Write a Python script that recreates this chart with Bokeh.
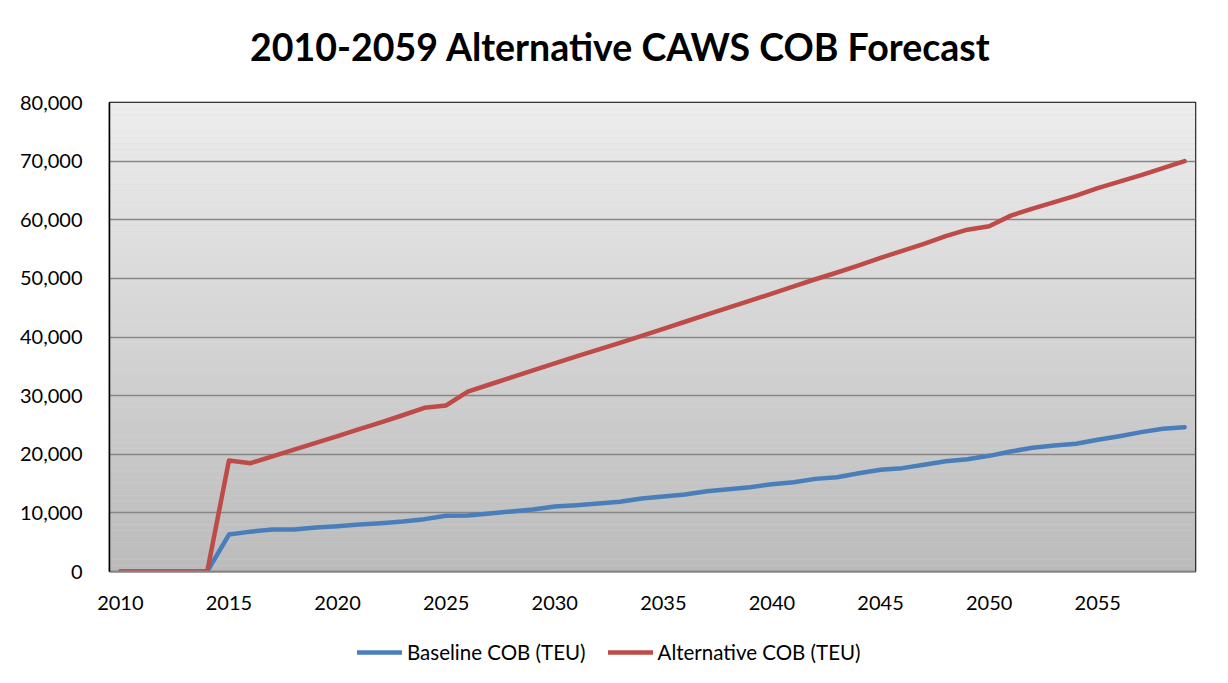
from bokeh.plotting import figure
from bokeh.layouts import column
from bokeh.models import (FixedTicker, NumeralTickFormatter, Range1d, BoxAnnotation,
                          Legend, LegendItem, Label)
from bokeh.embed import file_html
from bokeh.resources import INLINE

# ---------------- data ----------------
years = list(range(2010, 2060))
baseline = [0, 0, 0, 0, 0,
            6300, 6800, 7150, 7150, 7500, 7730, 8020, 8250, 8530, 8930,
            9500, 9550, 9890, 10240, 10580, 11090, 11320, 11600, 11890, 12450,
            12790, 13130, 13700, 14040, 14380, 14900, 15230, 15800, 16090, 16770,
            17350, 17630, 18200, 18820, 19160, 19730, 20470, 21100, 21500, 21780,
            22460, 23080, 23770, 24340, 24620]
alternative = [0, 0, 0, 0, 0,
               18940, 18480, 19650, 20800, 21950, 23100, 24300, 25450, 26650, 27930,
               28320, 30700, 31900, 33100, 34300, 35500, 36700, 37850, 39000, 40200,
               41400, 42600, 43800, 45000, 46200, 47400, 48650, 49850, 51000, 52200,
               53500, 54700, 55900, 57200, 58300, 58900, 60700, 61900, 63000, 64100,
               65400, 66500, 67600, 68800, 70000]
x_ticks = [2010, 2015, 2020, 2025, 2030, 2035, 2040, 2045, 2050, 2055]
y_ticks = [0, 10000, 20000, 30000, 40000, 50000, 60000, 70000, 80000]
series_names = ["Baseline COB (TEU)", "Alternative COB (TEU)"]
series_colors = ["#4A7EBB", "#BE4B48"]
title_text = "2010-2059 Alternative CAWS COB Forecast"

FONT = "Lato"
W = 1220

# ---------------- title strip ----------------
p0 = figure(width=W, height=90, output_backend="svg", toolbar_location=None,
            x_axis_type=None, y_axis_type=None, min_border=0,
            x_range=Range1d(0, 1), y_range=Range1d(0, 1))
p0.outline_line_color = None
p0.background_fill_color = "white"
p0.add_layout(Label(x=511, y=44, x_units="screen", y_units="screen", text=title_text,
                    text_font=FONT, text_font_size="37.5px", text_font_style="bold",
                    text_color="black", text_align="center", text_baseline="middle"))

# ---------------- main chart ----------------
p = figure(width=W, height=535, output_backend="svg", toolbar_location=None,
           x_range=Range1d(2009.5, 2059.5), y_range=Range1d(0, 80000),
           min_border_left=109, min_border_right=25, min_border_top=12,
           min_border_bottom=54)

p.background_fill_color = "#d6d6d6"
p.border_fill_color = "white"
p.outline_line_color = "black"
p.outline_line_width = 1.5

# gradient background bands
nb = 80
top_c, bot_c = 237, 187
for i in range(nb):
    t = (i + 0.5) / nb
    c = int(round(bot_c + (top_c - bot_c) * t))
    p.add_layout(BoxAnnotation(bottom=80000 * i / nb, top=80000 * (i + 1) / nb,
                               fill_color=(c, c, c), fill_alpha=1.0,
                               line_color=None, level="image"))

p.xgrid.grid_line_color = None
p.ygrid.ticker = FixedTicker(ticks=y_ticks)
p.ygrid.grid_line_color = "#868686"
p.ygrid.grid_line_width = 1.5

p.xaxis.ticker = FixedTicker(ticks=x_ticks)
p.yaxis.ticker = FixedTicker(ticks=y_ticks)
p.yaxis.formatter = NumeralTickFormatter(format="0,0")
for ax in (p.xaxis[0], p.yaxis[0]):
    ax.major_tick_line_color = None
    ax.minor_tick_line_color = None
    ax.major_label_text_font = FONT
    ax.major_label_text_font_size = "20px"
    ax.major_label_text_color = "black"
p.yaxis.axis_line_color = "black"
p.yaxis.axis_line_width = 1.5
p.yaxis.major_label_standoff = 21
p.xaxis.axis_line_color = "#868686"
p.xaxis.axis_line_width = 2
p.xaxis.major_label_standoff = 18

for vals, col in zip([baseline, alternative], series_colors):
    p.line(years, vals, line_color=col, line_width=4.5,
           line_join="round", line_cap="round")

# ---------------- legend strip ----------------
# the strip's ranges (0..1) keep these series lines out of view; they only feed the legend swatches
p2 = figure(width=W, height=50, output_backend="svg", toolbar_location=None,
            x_axis_type=None, y_axis_type=None, min_border=0,
            x_range=Range1d(0, 1), y_range=Range1d(0, 1))
p2.outline_line_color = None
p2.background_fill_color = "white"
leg_renderers = [p2.line(years, vals, line_color=c, line_width=4.5, line_cap="round")
                 for vals, c in zip([baseline, alternative], series_colors)]
legend = Legend(items=[LegendItem(label=n, renderers=[r]) for n, r in zip(series_names, leg_renderers)],
                orientation="horizontal", location=(248, 11),
                label_text_font=FONT, label_text_font_size="20.5px", label_text_color="black",
                glyph_width=45, glyph_height=20, label_standoff=5, spacing=22,
                padding=0, margin=0, border_line_color=None,
                background_fill_alpha=0)
p2.add_layout(legend, "center")

layout = column(p0, p, p2, spacing=0)

open("out.html", "w").write(file_html(layout, INLINE))
